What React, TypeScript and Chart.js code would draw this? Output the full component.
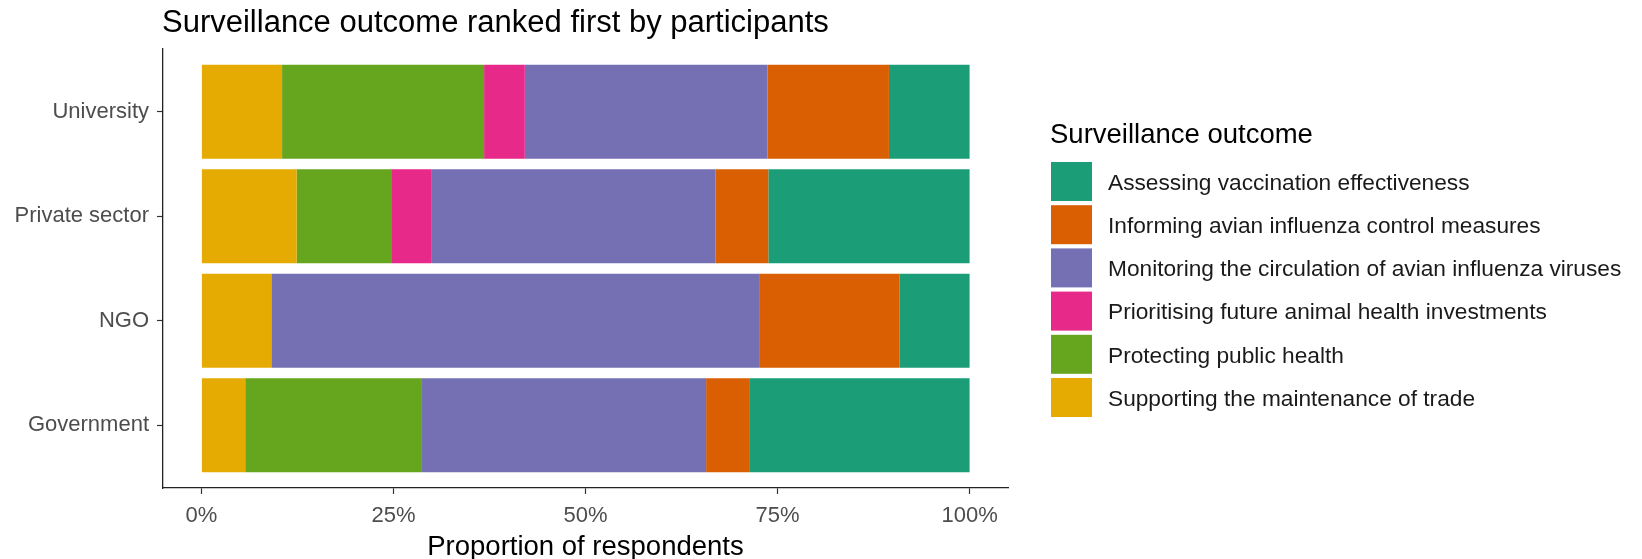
import React, { useEffect, useRef } from "react";
import { Chart, registerables } from "chart.js";

Chart.register(...registerables);

// ---- Data ----
const chartTitle = "Surveillance outcome ranked first by participants";
const xAxisTitle = "Proportion of respondents";
const legendTitle = "Surveillance outcome";
const categories = ["University", "Private sector", "NGO", "Government"];
const xTickValues = [0, 25, 50, 75, 100];
const xTickLabels = ["0%", "25%", "50%", "75%", "100%"];

// legend order (top to bottom); stacking goes right to left in this order
const outcomes = [
  "Assessing vaccination effectiveness",
  "Informing avian influenza control measures",
  "Monitoring the circulation of avian influenza viruses",
  "Prioritising future animal health investments",
  "Protecting public health",
  "Supporting the maintenance of trade",
];
const outcomeColors = ["#1B9E77", "#D95F02", "#7570B3", "#E7298A", "#66A61E", "#E6AB02"];

// percentage per category (University, Private sector, NGO, Government)
const assessing = [10.5, 26.2, 9.1, 28.6];
const informing = [15.8, 6.9, 18.2, 5.7];
const monitoring = [31.6, 37.0, 63.6, 37.1];
const prioritising = [5.3, 5.2, 0, 0];
const protecting = [26.3, 12.3, 0, 22.9];
const supporting = [10.5, 12.4, 9.1, 5.7];
const outcomeValues = [assessing, informing, monitoring, prioritising, protecting, supporting];

const FONT = "'Liberation Sans', Arial, Helvetica, sans-serif";

export default function App() {
  const canvasRef = useRef<HTMLCanvasElement | null>(null);

  useEffect(() => {
    if (!canvasRef.current) return;
    const n = categories.length;

    // datasets in stacking order: leftmost first
    const order = outcomes.map((_, i) => i).reverse();
    const datasets = order.map((oi) => ({
      label: outcomes[oi],
      data: outcomeValues[oi].map((v, ci) => ({ x: v, y: n - ci })),
      backgroundColor: outcomeColors[oi],
      borderWidth: 0,
      stack: "s",
      categoryPercentage: 1,
      barPercentage: 0.9,
    }));

    const overlay = {
      id: "overlay",
      afterDraw(chart: any) {
        const ctx = chart.ctx as CanvasRenderingContext2D;
        ctx.save();
        // plot title
        ctx.fillStyle = "#000";
        ctx.font = `31px ${FONT}`;
        ctx.textAlign = "left";
        ctx.textBaseline = "alphabetic";
        ctx.fillText(chartTitle, 162, 32);

        // legend
        const lx = 1051;
        ctx.font = `27.5px ${FONT}`;
        ctx.fillText(legendTitle, lx - 1, 143);
        const top0 = 162;
        const pitch = 43.2;
        const kw = 41;
        const kh = 39;
        ctx.font = `22.7px ${FONT}`;
        ctx.textBaseline = "middle";
        outcomes.forEach((name, i) => {
          const y = top0 + i * pitch;
          ctx.fillStyle = outcomeColors[i];
          ctx.fillRect(lx, y, kw, kh);
          ctx.fillStyle = "#1A1A1A";
          ctx.fillText(name, 1108, y + kh / 2 + 2);
        });
        ctx.restore();
      },
    };

    const chart = new Chart(canvasRef.current, {
      type: "bar",
      data: { datasets } as any,
      options: {
        indexAxis: "y",
        responsive: false,
        animation: false,
        devicePixelRatio: 1,
        layout: { padding: { left: 0, right: 634, top: 49, bottom: 0 } },
        plugins: {
          legend: { display: false },
          title: { display: false },
          tooltip: { enabled: false },
        },
        scales: {
          x: {
            type: "linear",
            stacked: true,
            min: -5,
            max: 105,
            offset: false,
            afterFit(scale: any) {
              scale.height = 71;
            },
            afterBuildTicks(scale: any) {
              scale.ticks = xTickValues.map((v) => ({ value: v }));
            },
            ticks: {
              color: "#4D4D4D",
              font: { family: FONT, size: 22 },
              padding: 9,
              maxRotation: 0,
              autoSkip: false,
              callback: (v: any) => {
                const idx = xTickValues.indexOf(Number(v));
                return idx >= 0 ? xTickLabels[idx] : "";
              },
            },
            grid: {
              display: true,
              offset: false,
              drawOnChartArea: false,
              drawTicks: true,
              tickLength: 6,
              tickColor: "#333333",
              tickWidth: 1.2,
            },
            border: { display: true, color: "#222222", width: 1.3 },
            title: {
              display: true,
              text: xAxisTitle,
              color: "#000",
              font: { family: FONT, size: 27.5, lineHeight: 1.0 },
              padding: { top: 0, bottom: -2 },
            },
          },
          y: {
            type: "linear",
            min: 0.4,
            max: 4.6,
            offset: false,
            afterFit(scale: any) {
              scale.width = 163;
            },
            afterBuildTicks(scale: any) {
              scale.ticks = categories.map((_, i) => ({ value: n - i }));
            },
            ticks: {
              color: "#4D4D4D",
              font: { family: FONT, size: 22 },
              padding: 8,
              autoSkip: false,
              callback: (v: any) => categories[n - Number(v)] ?? "",
            },
            grid: {
              display: true,
              offset: false,
              drawOnChartArea: false,
              drawTicks: true,
              tickLength: 6,
              tickColor: "#333333",
              tickWidth: 1.2,
            },
            border: { display: true, color: "#222222", width: 1.3 },
          },
        },
      } as any,
      plugins: [overlay],
    });

    return () => chart.destroy();
  }, []);

  return (
    <div style={{ position: "fixed", left: 0, top: 0, width: 1642, height: 559, background: "#fff" }}>
      <canvas ref={canvasRef} width={1642} height={559} style={{ display: "block" }} />
    </div>
  );
}
